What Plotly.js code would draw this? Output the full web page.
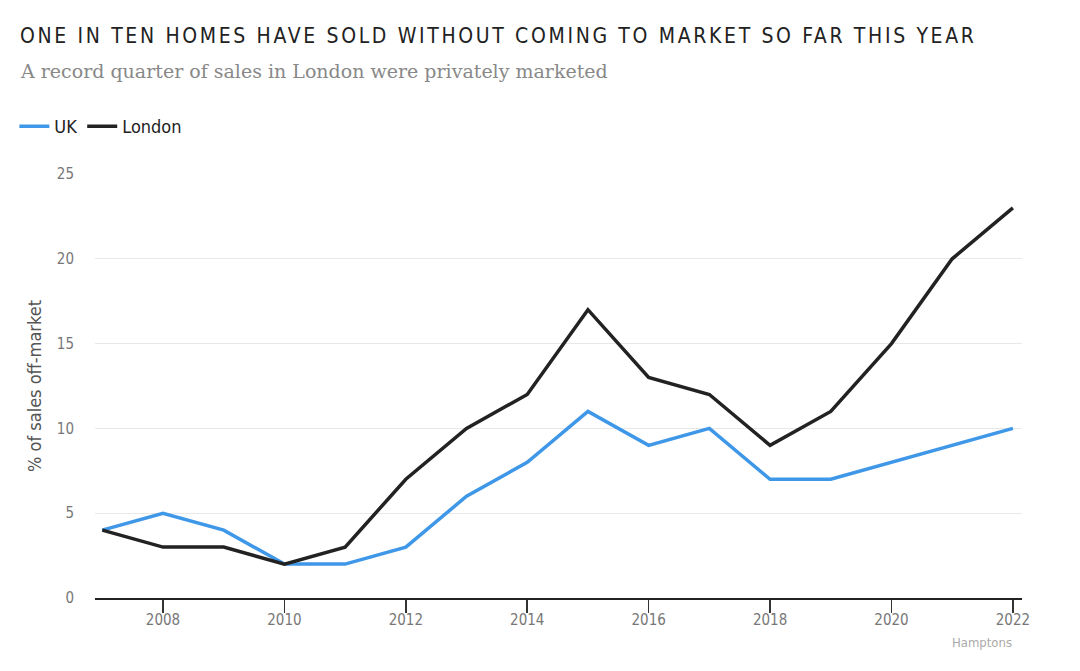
<!DOCTYPE html>
<html>
<head>
<meta charset="utf-8">
<script src="https://cdn.plot.ly/plotly-3.0.1.min.js"></script>
<style>
html,body{margin:0;padding:0;background:#fff;}
#chart{width:1080px;height:671px;}
</style>
</head>
<body>
<div id="chart"></div>
<script>
const years = [2007,2008,2009,2010,2011,2012,2013,2014,2015,2016,2017,2018,2019,2020,2021,2022];
const ukValues = [4,5,4,2,2,3,6,8,11,9,10,7,7,8,9,10];
const londonValues = [4,3,3,2,3,7,10,12,17,13,12,9,11,15,20,23];
const seriesNames = ['UK','London'];
const xTicks = [2008,2010,2012,2014,2016,2018,2020,2022];
const yTicks = [0,5,10,15,20,25];
const titleText = 'ONE IN TEN HOMES HAVE SOLD WITHOUT COMING TO MARKET SO FAR THIS YEAR';
const subtitleText = 'A record quarter of sales in London were privately marketed';
const yTitle = '% of sales off-market';
const sourceText = 'Hamptons';

const condensed = '"DejaVu Sans Condensed", "DejaVu Sans", sans-serif';
const titleFont = '"DejaVu Sans Condensed", "DejaVu Sans", sans-serif';

const traces = [
  {x: years, y: ukValues, name: seriesNames[0], type: 'scatter', mode: 'lines',
   line: {color: '#3f97e8', width: 3.5}},
  {x: years, y: londonValues, name: seriesNames[1], type: 'scatter', mode: 'lines',
   line: {color: '#222222', width: 3.5}}
];

const layout = {
  width: 1080, height: 671,
  margin: {l: 95, r: 58, t: 174, b: 72.5, pad: 0},
  paper_bgcolor: '#ffffff', plot_bgcolor: '#ffffff',
  font: {family: condensed, color: '#666'},
  showlegend: true,
  legend: {orientation: 'h', x: -0.087, xanchor: 'left', y: 1.112, yanchor: 'middle',
    font: {family: condensed, size: 18, color: '#222'}, itemwidth: 30, tracegroupgap: 0, bgcolor: 'rgba(0,0,0,0)'},
  xaxis: {
    range: [2006.88, 2022.15], tickvals: xTicks, ticktext: xTicks.map(String),
    showgrid: false, zeroline: false, showline: true, linecolor: '#222', linewidth: 2,
    ticks: 'outside', ticklen: 13, tickwidth: 1.5, tickcolor: '#333', ticklabelstandoff: -6,
    tickfont: {family: condensed, size: 15, color: '#777'}, fixedrange: true
  },
  yaxis: {
    range: [0, 25], tickvals: yTicks, ticktext: yTicks.map(String),
    showgrid: true, gridcolor: '#e8e8e8', gridwidth: 1, zeroline: false, showline: false,
    ticks: '', ticklabelstandoff: 20,
    tickfont: {family: condensed, size: 15, color: '#777'},
    title: {text: yTitle, font: {family: condensed, size: 18, color: '#555'}, standoff: 10},
    fixedrange: true
  },
  annotations: [
    {text: titleText, xref: 'paper', yref: 'paper', x: -0.0809, y: 1.325, xanchor: 'left', yanchor: 'middle',
     showarrow: false, font: {family: titleFont, size: 21, color: '#222'}},
    {text: subtitleText, xref: 'paper', yref: 'paper', x: -0.0835, y: 1.243, xanchor: 'left', yanchor: 'middle',
     showarrow: false, font: {family: '"DejaVu Serif", "Liberation Serif", serif', size: 19, color: '#888'}},
    {text: sourceText, xref: 'paper', yref: 'paper', x: 0.991, y: -0.105, xanchor: 'right', yanchor: 'middle',
     showarrow: false, font: {family: condensed, size: 13, color: '#aaa'}}
  ]
};

Plotly.newPlot('chart', traces, layout, {displayModeBar: false, staticPlot: true}).then(function(){
  const ann = document.querySelector('.annotation');
  if (!ann) return;
  const t = ann.querySelector('text');
  if (!t) return;
  t.style.letterSpacing = '2.65px';
  const r = t.getBoundingClientRect();
  const x0 = parseFloat(t.getAttribute('x')) || 0;
  t.setAttribute('x', x0 + (20 - r.left));
});
</script>
</body>
</html>
